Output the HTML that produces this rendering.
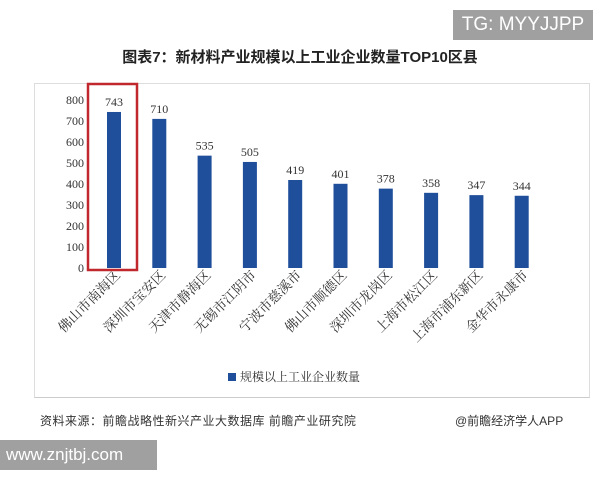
<!DOCTYPE html>
<html><head><meta charset="utf-8"><style>
body{margin:0;width:600px;height:480px;background:#fff;position:relative;overflow:hidden;font-family:"Liberation Sans","Noto Sans CJK SC",sans-serif}
.abs{position:absolute}
</style></head><body>
<div class="abs" style="left:453px;top:10px;width:140px;height:30px;background:#a0a0a0;color:#fff;font-size:19px;line-height:30px;text-align:center">TG: MYYJJPP</div>
<div class="abs" style="left:0;top:46px;width:600px;text-align:center;font-size:15px;font-weight:bold;color:#222">图表7：新材料产业规模以上工业企业数量TOP10区县</div>
<div class="abs" style="left:34px;top:83px;width:556px;height:315px;border:1px solid #ddd;border-bottom:1px solid #ccc;box-sizing:border-box"></div>
<svg class="abs" style="left:0;top:0" width="600" height="480" id="chart"></svg>
<div class="abs" style="left:40px;top:412px;font-size:12px;color:#333;letter-spacing:0.5px">资料来源：前瞻战略性新兴产业大数据库 前瞻产业研究院</div>
<div class="abs" style="left:455px;top:412px;font-size:12px;color:#333">@前瞻经济学人APP</div>
<div class="abs" style="left:0;top:440px;width:157px;height:30px;background:#a0a0a0;color:#fff;font-size:17px;line-height:30px;padding-left:6px;box-sizing:border-box">www.znjtbj.com</div>
<script>
const categories=["佛山市南海区","深圳市宝安区","天津市静海区","无锡市江阴市","宁波市慈溪市","佛山市顺德区","深圳市龙岗区","上海市松江区","上海市浦东新区","金华市永康市"];
const values=[743,710,535,505,419,401,378,358,347,344];
const yTicks=[0,100,200,300,400,500,600,700,800];
const svg=document.getElementById('chart');
const NS='http://www.w3.org/2000/svg';
const y0=268,yTop=100,yMax=800;
const y=v=>y0-(v/yMax)*(y0-yTop);
const x=i=>114+i*45.3;
function mk(t,a){const e=document.createElementNS(NS,t);for(const k in a)e.setAttribute(k,a[k]);svg.appendChild(e);return e;}
yTicks.forEach(t=>{const e=mk('text',{x:84,y:y(t)+4,'text-anchor':'end','font-size':12,fill:'#333','font-family':'Liberation Serif,serif'});e.textContent=t;

});
values.forEach((v,i)=>{
const b=mk('rect',{x:x(i)-7,y:y(v),width:14,height:y0-y(v),fill:'#1f4e9a'});


const l=mk('text',{x:x(i),y:y(v)-6,'text-anchor':'middle','font-size':12,fill:'#333','font-family':'Liberation Serif,serif'});l.textContent=v;


const c=mk('text',{x:x(i)+7,y:276,'text-anchor':'end','font-size':13.5,fill:'#333',transform:`rotate(-45 ${x(i)+7} 276)`,'font-family':'Noto Serif CJK SC,serif'});c.textContent=categories[i];


});
const hl=mk('rect',{x:88,y:84,width:49,height:186,fill:'none',stroke:'#c0282d','stroke-width':2.5});


const ls=mk('rect',{x:228,y:373,width:8,height:8,fill:'#1f4e9a'});


const lt=mk('text',{x:240,y:381,'font-size':12,fill:'#333','font-family':'Noto Serif CJK SC,serif'});lt.textContent='规模以上工业企业数量';


</script>
</body></html>
